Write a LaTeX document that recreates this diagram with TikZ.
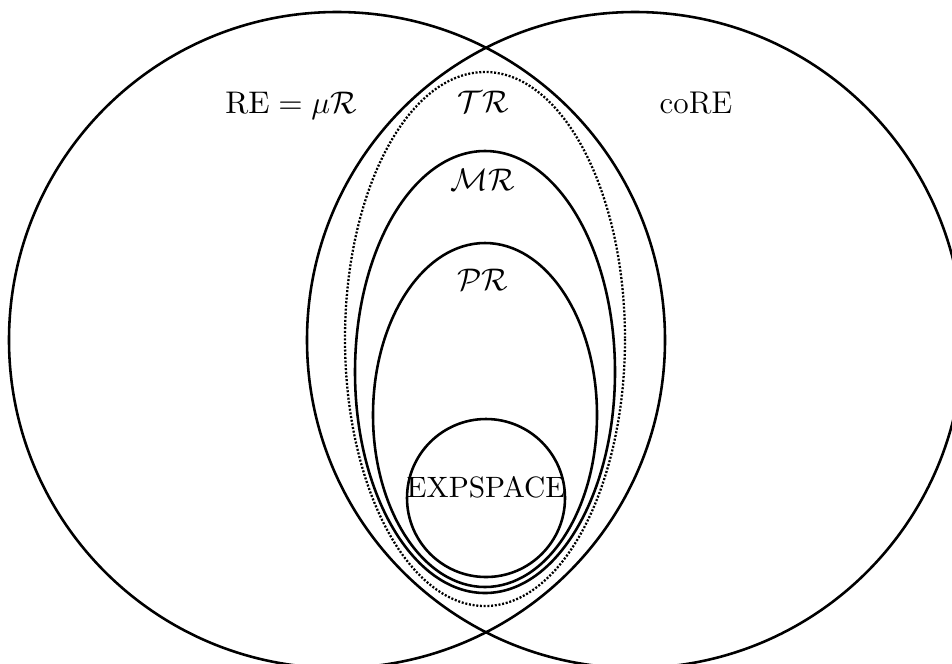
\documentclass[tikz,border=0pt]{standalone}
\begin{document}
\begin{tikzpicture}[x=0.35pt,y=-0.35pt,
  region/.style={line width=0.9pt},
  dotregion/.style={line width=0.8pt, dash pattern=on 0.7pt off 0.6pt},
  lab/.style={anchor=base, inner sep=0pt, font=\fontsize{11}{13}\selectfont}]
\useasboundingbox (0,0) rectangle (952,663);
% big circles
\draw[region] (337,340) circle [radius=328];
\draw[region] (635,340) circle [radius=328];
% nested regions
\draw[dotregion] (485,339) ellipse [x radius=140, y radius=267];
\draw[region] (485,372) ellipse [x radius=130, y radius=221];
\draw[region] (485,415) ellipse [x radius=112, y radius=172];
\draw[region] (486,498) circle [radius=79];
% labels
\node[lab] (re) at (291,113) {$\mathrm{RE}=\mu\mathcal{R}$};
\node[lab] (core) at (696,113) {coRE};
\node[lab] (tr) at (483,112) {$\mathcal{TR}$};
\node[lab] (mr) at (483,190) {$\mathcal{MR}$};
\node[lab] (pr) at (483,290) {$\mathcal{PR}$};
\node[lab, font=\fontsize{10.3}{12}\selectfont] (exp) at (486,497) {EXPSPACE};
\end{tikzpicture}
\end{document}
